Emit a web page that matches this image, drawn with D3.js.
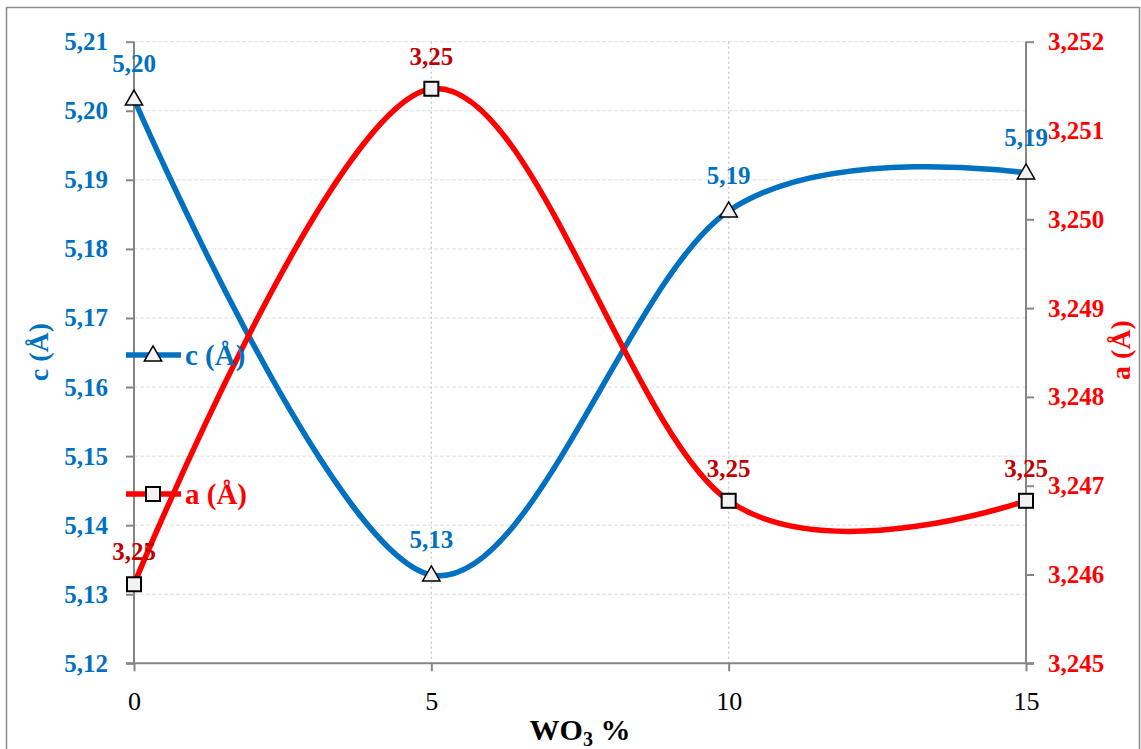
<!DOCTYPE html>
<html><head><meta charset="utf-8">
<script src="https://cdn.jsdelivr.net/npm/d3@7"></script>
<style>body{margin:0;background:#fff}svg{display:block}</style>
</head><body>
<svg id="chart" width="1141" height="749"></svg>
<script>
const wo3 = [0, 5, 10, 15];
const cValues = [5.2017, 5.1328, 5.1855, 5.1910];
const aValues = [3.24589, 3.25147, 3.24683, 3.24683];
const xTicks = [0, 5, 10, 15];
const cTicks = [5.12, 5.13, 5.14, 5.15, 5.16, 5.17, 5.18, 5.19, 5.20, 5.21];
const aTicks = [3.245, 3.246, 3.247, 3.248, 3.249, 3.250, 3.251, 3.252];

const svg = d3.select("#chart");
const L = 134, R = 1026, T = 41.7, B = 663.3;
const x = d3.scaleLinear().domain([0, 15]).range([L, R]);
const yc = d3.scaleLinear().domain([5.12, 5.21]).range([B, T]);
const ya = d3.scaleLinear().domain([3.245, 3.252]).range([B, T]);
const fmtC = v => v.toFixed(2).replace(".", ",");
const fmtA = v => v.toFixed(3).replace(".", ",");
const blue = "#0070C0", red = "#FF0000", dred = "#C00000", axisCol = "#868686";
const serif = "'Liberation Serif','Times New Roman',serif";

// frame
svg.append("rect").attr("x", 6.5).attr("y", 7.5).attr("width", 1133).attr("height", 760)
  .attr("fill", "none").attr("stroke", "#8c8c8c").attr("stroke-width", 1.5);

// horizontal grid
svg.append("g").selectAll("line").data(cTicks.slice(1)).join("line")
  .attr("x1", L).attr("x2", R).attr("y1", d => yc(d)).attr("y2", d => yc(d))
  .attr("stroke", "#dedede").attr("stroke-width", 1).attr("stroke-dasharray", "4,2");
// vertical grid
svg.append("g").selectAll("line").data([5, 10]).join("line")
  .attr("x1", d => x(d)).attr("x2", d => x(d)).attr("y1", T).attr("y2", B)
  .attr("stroke", "#c8c8c8").attr("stroke-width", 1.3).attr("stroke-dasharray", "2,3");

// axes
const gl = svg.append("g").attr("transform", `translate(${L},0)`)
  .call(d3.axisLeft(yc).tickValues(cTicks).tickFormat(fmtC).tickSize(8).tickPadding(18));
const gr = svg.append("g").attr("transform", `translate(${R},0)`)
  .call(d3.axisRight(ya).tickValues(aTicks).tickFormat(fmtA).tickSize(8).tickPadding(14));
const gb = svg.append("g").attr("transform", `translate(0,${B})`)
  .call(d3.axisBottom(x).tickValues(xTicks).tickFormat(d3.format("d")).tickSize(8).tickPadding(20));
[gl, gr, gb].forEach(g => {
  g.select(".domain").attr("stroke", axisCol).attr("stroke-width", 2);
  g.selectAll(".tick line").attr("stroke", axisCol).attr("stroke-width", 2);
  g.selectAll("text").attr("font-family", serif).attr("font-size", 25);
});
gl.select(".domain").attr("d", `M0,${T}V${B}`);
gr.select(".domain").attr("d", `M0,${T}V${B}`);
gb.select(".domain").attr("d", `M${L - 8},0H${R + 8}`);
gl.selectAll("text").attr("fill", blue).attr("font-weight", "bold");
gr.selectAll("text").attr("fill", red).attr("font-weight", "bold");
gb.selectAll("text").attr("fill", "#000").attr("font-size", 26);

// lines
const curve = d3.curveCardinal.tension(0);
const lineC = d3.line().x((d, i) => x(wo3[i])).y(d => yc(d)).curve(curve);
const lineA = d3.line().x((d, i) => x(wo3[i])).y(d => ya(d)).curve(curve);
svg.append("path").attr("d", lineC(cValues)).attr("fill", "none").attr("stroke", blue).attr("stroke-width", 5.5);
svg.append("path").attr("d", lineA(aValues)).attr("fill", "none").attr("stroke", red).attr("stroke-width", 5.5);

const tri = d3.symbol().type(d3.symbolTriangle).size(130);
function drawTri(g, cx, cy) {
  g.append("path").attr("d", tri()).attr("transform", `translate(${cx},${cy + 1})`)
    .attr("fill", "#f2f2f2").attr("stroke", "#000").attr("stroke-width", 1.5);
}
function drawSq(g, cx, cy) {
  g.append("rect").attr("x", cx - 7).attr("y", cy - 7).attr("width", 14).attr("height", 14)
    .attr("fill", "#f2f2f2").attr("stroke", "#000").attr("stroke-width", 2);
}
const mk = svg.append("g");
cValues.forEach((v, i) => drawTri(mk, x(wo3[i]), yc(v)));
aValues.forEach((v, i) => drawSq(mk, x(wo3[i]), ya(v)));

// data labels
svg.append("g").selectAll("text").data(cValues).join("text")
  .attr("x", (d, i) => x(wo3[i])).attr("y", d => yc(d) - 27)
  .attr("text-anchor", "middle").attr("font-family", serif).attr("font-size", 25)
  .attr("font-weight", "bold").attr("fill", blue).text(d => fmtC(d));
svg.append("g").selectAll("text").data(aValues).join("text")
  .attr("x", (d, i) => x(wo3[i])).attr("y", d => ya(d) - 24)
  .attr("text-anchor", "middle").attr("font-family", serif).attr("font-size", 25)
  .attr("font-weight", "bold").attr("fill", dred).text(d => d.toFixed(2).replace(".", ","));

// legend
const leg = svg.append("g");
[{name: "c (Å)", col: blue, y: 355, m: "t"}, {name: "a (Å)", col: red, y: 494, m: "s"}].forEach(e => {
  leg.append("line").attr("x1", 126).attr("x2", 181).attr("y1", e.y).attr("y2", e.y)
    .attr("stroke", e.col).attr("stroke-width", 5.5);
  if (e.m === "t") drawTri(leg, 153, e.y); else drawSq(leg, 153, e.y);
  leg.append("text").attr("x", 185).attr("y", e.y + 10).attr("font-family", serif)
    .attr("font-size", 29).attr("font-weight", "bold").attr("fill", e.col).text(e.name);
});

// axis titles
svg.append("text").attr("transform", "translate(48,352) rotate(-90)").attr("text-anchor", "middle")
  .attr("font-family", serif).attr("font-size", 28).attr("font-weight", "bold").attr("fill", blue).text("c (Å)");
svg.append("text").attr("transform", "translate(1130,350) rotate(-90)").attr("text-anchor", "middle")
  .attr("font-family", serif).attr("font-size", 28).attr("font-weight", "bold").attr("fill", red).text("a (Å)");
const xt = svg.append("text").attr("x", 580).attr("y", 740).attr("text-anchor", "middle")
  .attr("font-family", serif).attr("font-size", 30).attr("font-weight", "bold").attr("fill", "#000");
xt.append("tspan").text("WO");
xt.append("tspan").attr("font-size", 20).attr("dy", 6).text("3");
xt.append("tspan").attr("dy", -6).text(" %");
</script>
</body></html>
